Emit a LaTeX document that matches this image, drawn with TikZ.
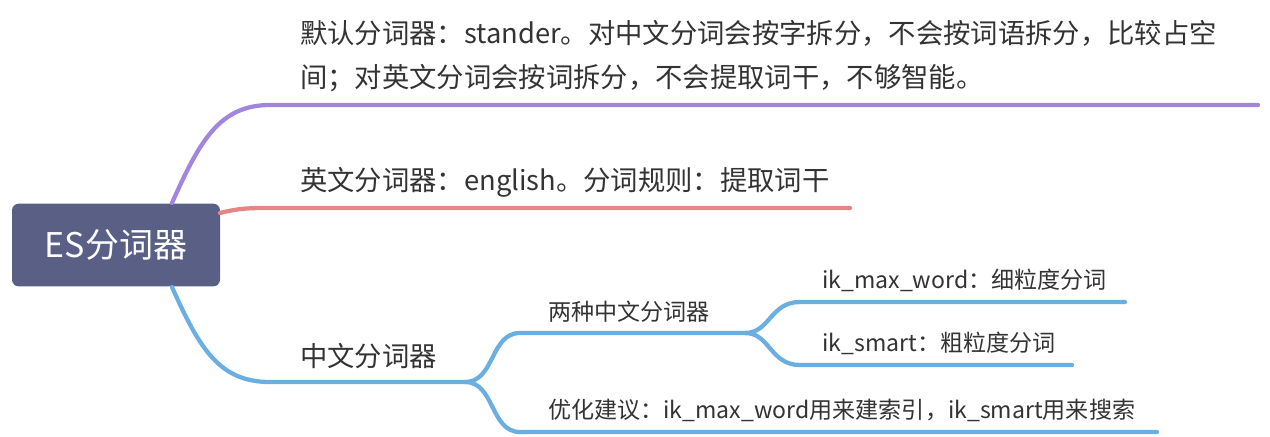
\documentclass[tikz,border=0pt]{standalone}
\usepackage{fontspec}
\setmainfont{Noto Sans CJK SC}
\definecolor{rootc}{HTML}{5A5F86}
\definecolor{purp}{HTML}{A285DE}
\definecolor{redc}{HTML}{E48586}
\definecolor{bluec}{HTML}{6AAEE2}
\definecolor{txt}{HTML}{333333}
\begin{document}
\begin{tikzpicture}[x=0.75pt,y=-0.75pt,
  br/.style={line width=3.2pt,line cap=round},
  lab/.style={anchor=west,text=txt,font=\fontsize{20.5}{27}\selectfont,inner sep=0pt},
  slab/.style={anchor=west,text=txt,font=\fontsize{17.3}{20}\selectfont,inner sep=0pt}]
\useasboundingbox (0,0) rectangle (1270,436);
\node[fill=rootc,rounded corners=5pt,minimum width=156pt,minimum height=62pt,text=white,font=\fontsize{25.5}{30}\selectfont] (root) at (116,245) {ES分词器};
\coordinate (r1) at (172,203);
\coordinate (r2) at (220,213);
\coordinate (r3) at (172,287);
\coordinate (p1) at (270,105); \coordinate (p2) at (1258,105);
\coordinate (e1) at (270,208); \coordinate (e2) at (850,208);
\coordinate (b1) at (270,382); \coordinate (b2) at (465,382);
\coordinate (c1) at (520,333); \coordinate (c2) at (745,333);
\coordinate (d1) at (800,302); \coordinate (d2) at (1125,302);
\coordinate (f1) at (800,365); \coordinate (f2) at (1072,365);
\coordinate (g1) at (520,432); \coordinate (g2) at (1157,432);
\draw[br,purp] (r1) .. controls (200,140) and (220,105) .. (p1) -- (p2);
\draw[br,redc] (r2) .. controls (240,208) and (250,208) .. (e1) -- (e2);
\draw[br,bluec] (r3) .. controls (200,350) and (220,382) .. (b1) -- (b2);
\draw[br,bluec] (b2) .. controls (495,382) and (490,333) .. (c1) -- (c2);
\draw[br,bluec] (c2) .. controls (770,333) and (770,302) .. (d1) -- (d2);
\draw[br,bluec] (c2) .. controls (770,333) and (770,365) .. (f1) -- (f2);
\draw[br,bluec] (b2) .. controls (495,382) and (490,432) .. (g1) -- (g2);
\node[lab] (t1) at (300,33) {默认分词器：stander。对中文分词会按字拆分，不会按词语拆分，比较占空};
\node[lab] (t1b) at (300,78) {间；对英文分词会按词拆分，不会提取词干，不够智能。};
\node[lab] (t2) at (300,182) {英文分词器：english。分词规则：提取词干};
\node[lab] (t3) at (300,356) {中文分词器};
\node[slab] (t4) at (548,312) {两种中文分词器};
\node[slab] (t5) at (822,280) {ik\_max\_word：细粒度分词};
\node[slab] (t6) at (822,343) {ik\_smart：粗粒度分词};
\node[slab] (t7) at (548,410) {优化建议：ik\_max\_word用来建索引，ik\_smart用来搜索};
\end{tikzpicture}
\end{document}
